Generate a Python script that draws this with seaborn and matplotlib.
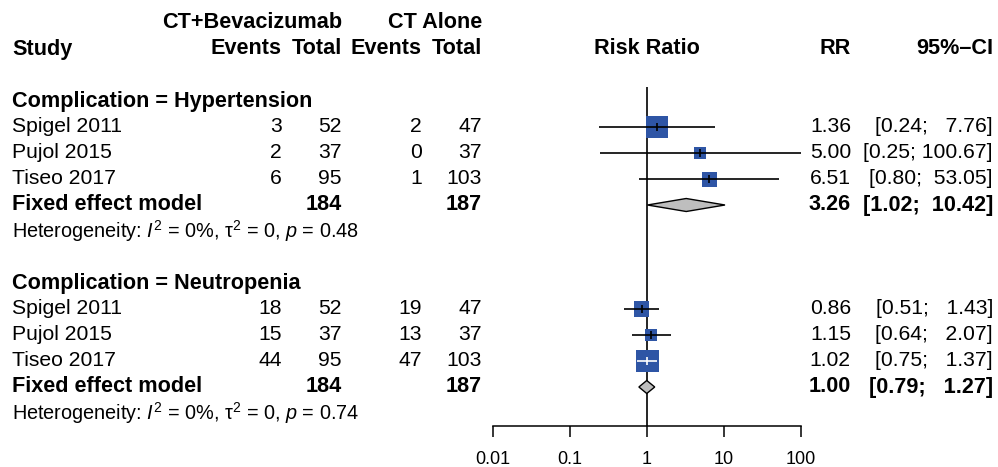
import numpy as np
import pandas as pd
import matplotlib.pyplot as plt
import matplotlib.ticker as mticker
import seaborn as sns

# data
studies = ["Spigel 2011", "Pujol 2015", "Tiseo 2017"]
group_titles = ["Complication = Hypertension", "Complication = Neutropenia"]

hyp_ev_bev = [3, 2, 6]
hyp_ev_ct = [2, 0, 1]
neu_ev_bev = [18, 15, 44]
neu_ev_ct = [19, 13, 47]
n_bev = [52, 37, 95]
n_ct = [47, 37, 103]

hyp_rr = [1.36, 5.00, 6.51]
hyp_lo = [0.24, 0.25, 0.80]
hyp_hi = [7.76, 100.67, 53.05]
hyp_weight = [50, 16, 25]
neu_rr = [0.86, 1.15, 1.02]
neu_lo = [0.51, 0.64, 0.75]
neu_hi = [1.43, 2.07, 1.37]
neu_weight = [26, 16, 58]

fixed_rr = [3.26, 1.00]
fixed_lo = [1.02, 0.79]
fixed_hi = [10.42, 1.27]
het_p = [0.48, 0.74]

tick_vals = [0.01, 0.1, 1, 10, 100]
tick_labels = ["0.01", "0.1", "1", "10", "100"]

sns.set_theme(style="white")
plt.rcParams['font.family'] = ['Liberation Sans', 'DejaVu Sans']
plt.rcParams['text.color'] = 'black'
plt.rcParams['mathtext.fontset'] = 'custom'
plt.rcParams['mathtext.rm'] = 'Liberation Sans'
plt.rcParams['mathtext.it'] = 'Liberation Sans:italic'
plt.rcParams['mathtext.bf'] = 'Liberation Sans:bold'

W, H = 998, 467
fig = plt.figure(figsize=(W / 100, H / 100), dpi=100)
fig.patch.set_facecolor('white')

# text layer in pixel units
tax = fig.add_axes([0, 0, 1, 1])
tax.set_xlim(0, W)
tax.set_ylim(H, 0)
tax.axis('off')

# forest layer
x0, x1 = 493, 800.5
ax = fig.add_axes([x0 / W, 0, (x1 - x0) / W, 1], facecolor='none')
ax.set_xscale('log')
ax.set_xlim(0.01, 100)
ax.set_ylim(H, 0)
decade_px = (x1 - x0) / 4

FS = 15.2
FS_B = 15.6
FS_HET = 14.3
BLUE = '#2E55A5'

def row(k):
    return 101 + 26 * k

col_name, col_e1, col_n1, col_e2, col_n2 = 12, 282, 342, 422, 482
col_rr, col_ci = 851, 993

# header
hdr = dict(fontsize=FS_B, fontweight='bold', va='center', color='black')
tax.text(col_n1, row(-3), "CT+Bevacizumab", ha='right', **hdr)
tax.text(col_n2, row(-3), "CT Alone", ha='right', **hdr)
tax.text(col_name, row(-2), "Study", ha='left', **hdr)
for x, lab in zip([col_e1, col_n1, col_e2, col_n2], ["Events", "Total", "Events", "Total"]):
    tax.text(x, row(-2), lab, ha='right', **hdr)
tax.text(647, row(-2), "Risk Ratio", ha='center', **hdr)
tax.text(col_rr, row(-2), "RR", ha='right', **hdr)
tax.text(col_ci, row(-2), "95%\u2013CI", ha='right', **hdr)

groups = [
    (group_titles[0], hyp_ev_bev, hyp_ev_ct, hyp_rr, hyp_lo, hyp_hi, hyp_weight),
    (group_titles[1], neu_ev_bev, neu_ev_ct, neu_rr, neu_lo, neu_hi, neu_weight),
]

# reference line at RR = 1
ax.vlines(1, 87, 426, color='black', lw=1.2, zorder=1)

rows_sq = []
for g, (title, e1, e2, rr, lo, hi, w) in enumerate(groups):
    base = 7 * g
    tax.text(col_name, row(base), title, ha='left', fontsize=FS_B, fontweight='bold', va='center')
    for i, st in enumerate(studies):
        y = row(base + 1 + i)
        tax.text(col_name, y, st, ha='left', fontsize=FS, va='center')
        for x, v in zip([col_e1, col_n1, col_e2, col_n2], [e1[i], n_bev[i], e2[i], n_ct[i]]):
            tax.text(x, y, str(v), ha='right', fontsize=FS, va='center')
        tax.text(col_rr, y, f"{rr[i]:.2f}", ha='right', fontsize=FS, va='center')
        tax.text(col_ci, y, f"[{lo[i]:.2f}; {hi[i]:>6.2f}]", ha='right', fontsize=FS, va='center')
        side_px = 3.0 * np.sqrt(w[i])
        rows_sq.append(dict(rr=rr[i], y=y, s=(side_px * 0.72) ** 2))
        # CI drawn white when it lies inside the box
        half = side_px / 2 / decade_px
        inside = (np.log10(lo[i]) >= np.log10(rr[i]) - half) and (np.log10(hi[i]) <= np.log10(rr[i]) + half)
        lc = 'white' if inside else 'black'
        ax.hlines(y, lo[i], min(hi[i], 100), color=lc, lw=1.2, zorder=3)
        ax.vlines(rr[i], y - 4, y + 4, color=lc, lw=1.2, zorder=3)

    # fixed effect
    y = row(base + 4)
    tax.text(col_name, y, "Fixed effect model", ha='left', fontsize=FS_B, fontweight='bold', va='center')
    tax.text(col_n1, y, str(sum(n_bev)), ha='right', fontsize=FS_B, fontweight='bold', va='center')
    tax.text(col_n2, y, str(sum(n_ct)), ha='right', fontsize=FS_B, fontweight='bold', va='center')
    tax.text(col_rr, y, f"{fixed_rr[g]:.2f}", ha='right', fontsize=FS_B, fontweight='bold', va='center')
    tax.text(col_ci, y, f"[{fixed_lo[g]:.2f}; {fixed_hi[g]:>6.2f}]", ha='right', fontsize=FS_B,
             fontweight='bold', va='center')
    ax.fill([fixed_lo[g], fixed_rr[g], fixed_hi[g], fixed_rr[g]], [y, y - 6.5, y, y + 6.5],
            facecolor='#BEBEBE', edgecolor='black', lw=1.0, zorder=3)

    y = row(base + 5)
    tax.text(col_name, y, f"Heterogeneity: $I^2$ = 0%, \u03c4$^2$ = 0, $p$ = {het_p[g]:.2f}",
             ha='left', fontsize=FS_HET, va='center')

df_sq = pd.DataFrame(rows_sq)
sns.scatterplot(data=df_sq, x='rr', y='y', s=df_sq['s'].values, marker='s', color=BLUE,
                linewidth=0, ax=ax, zorder=2, legend=False)

# bottom axis
for sp in ['top', 'left', 'right']:
    ax.spines[sp].set_visible(False)
ax.spines['bottom'].set_position(('data', 426))
ax.spines['bottom'].set_color('black')
ax.spines['bottom'].set_linewidth(1.1)
ax.xaxis.set_major_locator(mticker.FixedLocator(tick_vals))
ax.xaxis.set_major_formatter(mticker.FixedFormatter(tick_labels))
ax.xaxis.set_minor_locator(mticker.NullLocator())
ax.tick_params(axis='x', which='major', direction='out', length=8, width=1.1, pad=10,
               labelsize=13, colors='black', bottom=True)
ax.set_yticks([])
ax.set_xlabel('')
ax.set_ylabel('')
ax.grid(False)

fig.savefig('out.png', dpi=100)
